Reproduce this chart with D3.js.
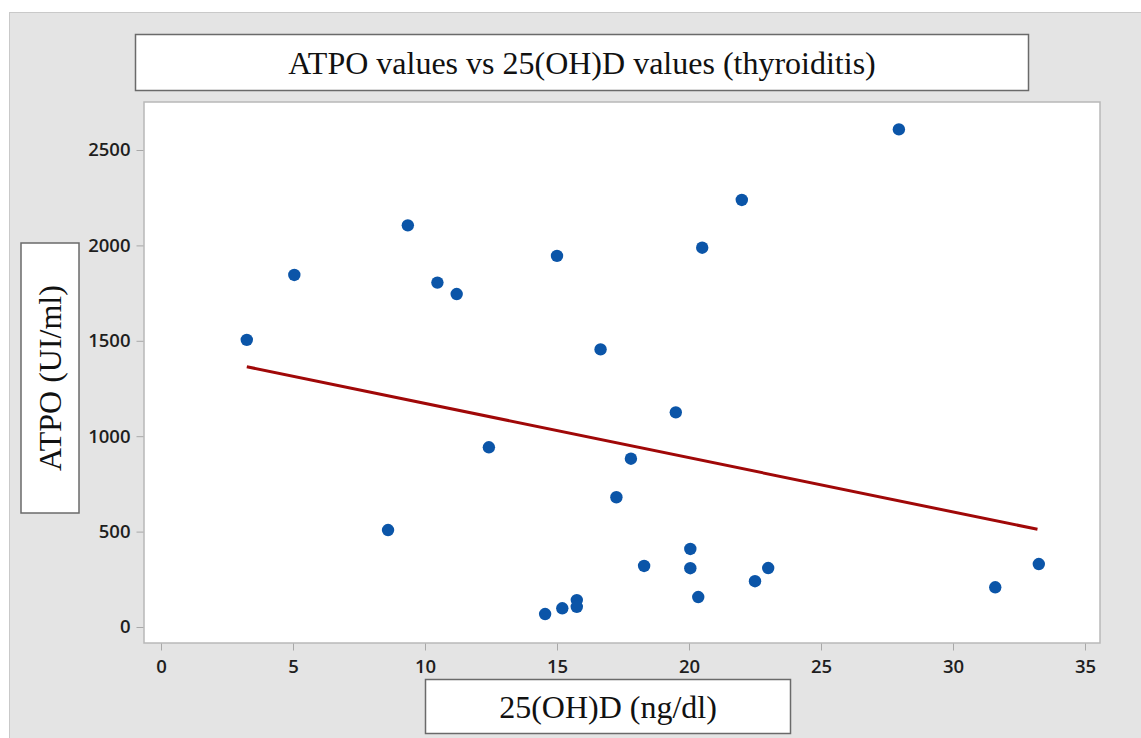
<!DOCTYPE html>
<html>
<head>
<meta charset="utf-8">
<script src="https://cdn.jsdelivr.net/npm/d3@7"></script>
<style>
  body { margin: 0; background: #ffffff; }
  .tick text { font-family: "Open Sans", sans-serif; font-weight: 600; font-size: 18.5px; fill: #1e1e1e; }
  .tick line { stroke: #a8a8a8; }
  .lbl { font-family: "Liberation Serif", "Times New Roman", serif; font-size: 32px; fill: #111; }
</style>
</head>
<body>
<div id="chart"></div>
<script>
// 25(OH)D (ng/dl) and ATPO (UI/ml) values
var vitD = [3.25, 5.05, 9.35, 10.47, 11.2, 15.0, 20.5, 22.0, 16.65, 19.5, 12.42, 17.8, 17.25, 8.6,
            18.3, 14.55, 15.2, 15.75, 15.75, 20.05, 20.05, 20.35, 22.5, 23.0, 27.95, 33.25, 31.6];
var atpo = [1505, 1845, 2105, 1805, 1745, 1945, 1988, 2238, 1455, 1125, 942, 882, 680, 508,
            320, 68, 98, 141, 106, 409, 308, 157, 240, 309, 2608, 330, 208];

// fitted regression line, end points
var fitX = [3.25, 33.2];
var fitY = [1364, 512];

var xTicks = [0, 5, 10, 15, 20, 25, 30, 35];
var yTicks = [0, 500, 1000, 1500, 2000, 2500];

var titleText = "ATPO values vs 25(OH)D values (thyroiditis)";
var xLabel = "25(OH)D (ng/dl)";
var yLabel = "ATPO (UI/ml)";

const W = 1141, H = 738;
const plot = { left: 144, top: 102, right: 1100, bottom: 643 };

const svg = d3.select("#chart").append("svg")
  .attr("width", W)
  .attr("height", H);

// gray panel
svg.append("rect")
  .attr("x", 9.5).attr("y", 12.5)
  .attr("width", W).attr("height", H)
  .attr("fill", "#e4e4e4")
  .attr("stroke", "#c9c9c9");

// plot area
svg.append("rect")
  .attr("x", plot.left).attr("y", plot.top)
  .attr("width", plot.right - plot.left)
  .attr("height", plot.bottom - plot.top)
  .attr("fill", "#ffffff")
  .attr("stroke", "#b8b8b8")
  .attr("stroke-width", 1.5);

const xScale = d3.scaleLinear().domain([0, 35]).range([161, 1085]);
const yScale = d3.scaleLinear().domain([0, 2500]).range([627, 150]);

const xAxis = d3.axisBottom(xScale).tickValues(xTicks).tickFormat(d3.format("d")).tickSize(7).tickPadding(9);
svg.append("g")
  .attr("transform", "translate(0," + (plot.bottom + 0.5) + ")")
  .call(xAxis)
  .call(g => g.select(".domain").remove());

const yAxis = d3.axisLeft(yScale).tickValues(yTicks).tickFormat(d3.format("d")).tickSize(7).tickPadding(6);
svg.append("g")
  .attr("transform", "translate(" + (plot.left - 0.5) + ",0)")
  .call(yAxis)
  .call(g => g.select(".domain").remove());

// regression line
svg.append("line")
  .attr("x1", xScale(fitX[0])).attr("y1", yScale(fitY[0]))
  .attr("x2", xScale(fitX[1])).attr("y2", yScale(fitY[1]))
  .attr("stroke", "#a00808")
  .attr("stroke-width", 3);

// points
svg.append("g")
  .selectAll("circle")
  .data(vitD)
  .enter()
  .append("circle")
  .attr("cx", (d) => xScale(d))
  .attr("cy", (d, i) => yScale(atpo[i]))
  .attr("r", 6.2)
  .attr("fill", "#0b55a8");

// label boxes
function labelBox(x, y, w, h, text, rotate) {
  svg.append("rect")
    .attr("x", x).attr("y", y).attr("width", w).attr("height", h)
    .attr("fill", "#ffffff")
    .attr("stroke", "#6a6a6a")
    .attr("stroke-width", 1.5);
  const cx = x + w / 2, cy = y + h / 2;
  svg.append("text")
    .attr("class", "lbl")
    .attr("text-anchor", "middle")
    .attr("dominant-baseline", "central")
    .attr("transform", "translate(" + cx + "," + cy + ")" + (rotate ? " rotate(-90)" : ""))
    .text(text);
}

labelBox(135.5, 34.5, 893, 56, titleText, false);
labelBox(425.5, 679.5, 365, 54, xLabel, false);
labelBox(21, 243, 58, 270, yLabel, true);
</script>
</body>
</html>
